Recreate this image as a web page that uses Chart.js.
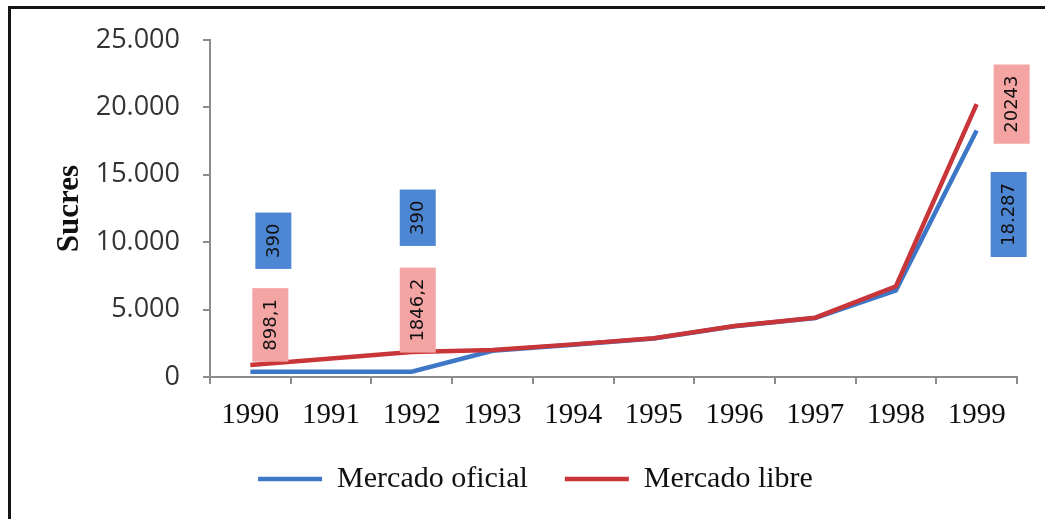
<!DOCTYPE html>
<html><head><meta charset="utf-8">
<script src="https://cdn.jsdelivr.net/npm/chart.js@4"></script>
<style>
html,body{margin:0;padding:0;background:#fff;overflow:hidden;}
#wrap{position:relative;width:1045px;height:519px;}
#c{position:absolute;left:0;top:0;}
#frame{position:absolute;left:8px;top:6px;width:1045px;height:519px;border-left:3px solid #151515;border-top:3px solid #151515;pointer-events:none;}
</style></head><body>
<div id="wrap"><canvas id="c" width="1045" height="519"></canvas><div id="frame"></div></div>
<script>
const years = ['1990','1991','1992','1993','1994','1995','1996','1997','1998','1999'];
const oficial = [390, 390, 390, 1950, 2400, 2850, 3760, 4380, 6430, 18287];
const libre = [898.1, 1370, 1846.2, 2000, 2420, 2870, 3780, 4400, 6730, 20243];
const oficialLabels = ['390', null, '390', null, null, null, null, null, null, '18.287'];
const libreLabels = ['898,1', null, '1846,2', null, null, null, null, null, null, '20243'];
const yTickValues = [0, 5000, 10000, 15000, 20000, 25000];
const seriesNames = ['Mercado oficial', 'Mercado libre'];
const axisTitle = 'Sucres';

const BLUE = '#3d77c6';
const RED = '#c8363a';

const boxLabels = {
  id: 'boxLabels',
  afterDatasetsDraw(chart, args, opts) {
    const ctx = chart.ctx;
    opts.sets.forEach(set => {
      const meta = chart.getDatasetMeta(set.dataset);
      set.texts.forEach((t, i) => {
        if (!t) return;
        const pt = meta.data[i];
        const off = set.offsets[i] || [0, 0];
        const cx = pt.x + off[0], cy = pt.y + off[1];
        ctx.save();
        ctx.font = opts.font;
        const tw = ctx.measureText(t).width;
        const len = tw + 2 * opts.padLen, th = opts.thickness;
        ctx.translate(cx, cy);
        ctx.rotate(-Math.PI / 2);
        ctx.fillStyle = set.bg;
        ctx.fillRect(-len / 2, -th / 2, len, th);
        ctx.fillStyle = '#111';
        ctx.textAlign = 'center';
        ctx.textBaseline = 'middle';
        ctx.fillText(t, 0, 1);
        ctx.restore();
      });
    });
  }
};

new Chart(document.getElementById('c'), {
  type: 'line',
  data: {
    labels: years,
    datasets: [
      { label: seriesNames[0], data: oficial, borderColor: BLUE, backgroundColor: BLUE, borderWidth: 4.5, pointRadius: 0, tension: 0, fill: false, order: 1 },
      { label: seriesNames[1], data: libre, borderColor: RED, backgroundColor: RED, borderWidth: 4.5, pointRadius: 0, tension: 0, fill: false, order: 0 }
    ]
  },
  options: {
    responsive: false,
    animation: false,
    layout: { padding: { left: 54, right: 28, top: 40, bottom: 15 } },
    plugins: {
      tooltip: { enabled: false },
      legend: {
        position: 'bottom',
        labels: {
          usePointStyle: true,
          pointStyle: 'line',
          pointStyleWidth: 64,
          font: { family: 'Liberation Serif', size: 30 },
          color: '#111',
          padding: 37,
          sort: (a, b) => a.datasetIndex - b.datasetIndex
        }
      },
      boxLabels: {
        font: '18px "DejaVu Sans"',
        padLen: 11,
        thickness: 36,
        sets: [
          { dataset: 0, texts: oficialLabels, bg: '#4d86d3',
            offsets: { 0: [23, -131], 2: [6, -154], 9: [32, 84] } },
          { dataset: 1, texts: libreLabels, bg: '#f5a4a4',
            offsets: { 0: [20, -40], 2: [6, -42], 9: [35, 0] } }
        ]
      }
    },
    scales: {
      x: {
        offset: true,
        grid: { offset: true, drawOnChartArea: false, tickLength: 7, color: '#8c8c8c', lineWidth: 2 },
        border: { color: '#8c8c8c', width: 2 },
        ticks: { font: { family: 'Liberation Serif', size: 29 }, color: '#0d0d0d', padding: 14, maxRotation: 0, autoSkip: false },
        afterFit(s) { s.height = 50; }
      },
      y: {
        min: 0, max: 25000,
        afterBuildTicks(s) { s.ticks = yTickValues.map(v => ({ value: v })); },
        ticks: {
          callback: v => v === 0 ? '0' : (v / 1000) + '.000',
          font: { family: 'Open Sans', size: 27 },
          color: '#333',
          padding: 23
        },
        grid: { drawOnChartArea: false, tickLength: 7, color: '#8c8c8c', lineWidth: 2 },
        border: { color: '#8c8c8c', width: 2 },
        title: { display: true, text: axisTitle, font: { family: 'Liberation Serif', size: 31, weight: 'bold', lineHeight: 1 }, color: '#111', padding: { top: 0, bottom: 0 } },
        afterFit(s) { s.width = 156; }
      }
    }
  },
  plugins: [boxLabels]
});
</script>
</body></html>
